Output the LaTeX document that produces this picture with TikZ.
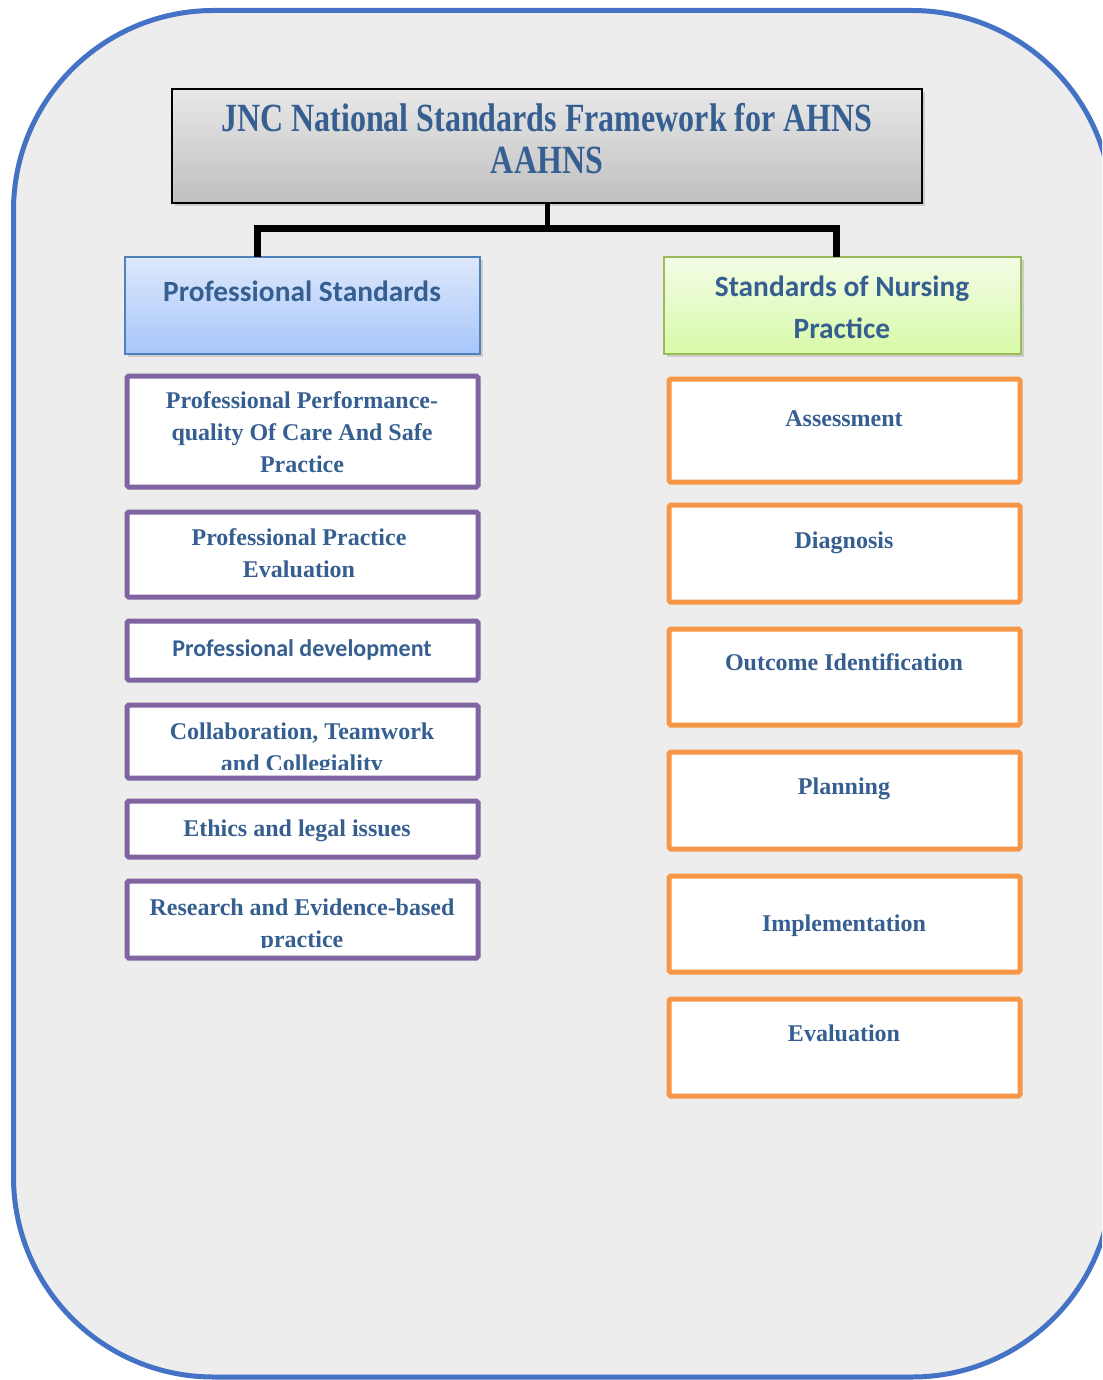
\documentclass[tikz,border=0pt]{standalone}
\usepackage{fontspec}
\setmainfont{Liberation Serif}
\newfontfamily\calibrifont{Carlito}
\newfontfamily\titlefont[FakeStretch=0.8]{Liberation Serif}
\usetikzlibrary{shadows}

\definecolor{framecol}{HTML}{4472C4}
\definecolor{panegrey}{HTML}{EDEDED}
\definecolor{txtblue}{HTML}{365F91}
\definecolor{itempurple}{HTML}{8064A2}
\definecolor{itemorange}{HTML}{F79646}
\definecolor{profline}{HTML}{4F81BD}
\definecolor{proftop}{HTML}{DDE8FB}
\definecolor{profbot}{HTML}{A7C6FA}
\definecolor{nursline}{HTML}{9BBB59}
\definecolor{nurstop}{HTML}{F3FCE6}
\definecolor{nursbot}{HTML}{D8FAA8}

\tikzset{
  frame/.style={draw=framecol, line width=2.5pt, fill=panegrey, rounded corners=100pt},
  headshadow/.style={drop shadow={shadow xshift=1.5pt, shadow yshift=-1.5pt, opacity=0.3}},
  titlebox/.style={draw=black, line width=1pt, anchor=north west, outer sep=0pt, minimum width=375pt,
    minimum height=57pt, top color=black!9, bottom color=black!25, headshadow},
  profbox/.style={draw=profline, line width=0.9pt, anchor=north west, outer sep=0pt, minimum width=177.5pt,
    minimum height=48.5pt, top color=proftop, bottom color=profbot, headshadow},
  nursbox/.style={draw=nursline, line width=0.9pt, anchor=north west, outer sep=0pt, minimum width=178.5pt,
    minimum height=48.5pt, top color=nurstop, bottom color=nursbot, headshadow},
  purplebox/.style={draw=itempurple, line width=2.5pt, fill=white, anchor=north west, outer sep=0pt,
    minimum width=175.5pt, rounded corners=0.8pt},
  orangebox/.style={draw=itemorange, line width=2.5pt, fill=white, anchor=north west, outer sep=0pt,
    minimum width=175.5pt, rounded corners=0.8pt},
  titletext/.style={text=txtblue, align=center, font=\titlefont\bfseries\fontsize{20}{21}\selectfont},
  headtext/.style={text=txtblue, align=center, font=\calibrifont\bfseries\fontsize{14.7}{21}\selectfont},
  itemtext/.style={text=txtblue, align=center, font=\bfseries\fontsize{12}{16}\selectfont},
  itemsans/.style={text=txtblue, align=center, font=\calibrifont\bfseries\fontsize{12}{16}\selectfont},
  stem/.style={line width=2.5pt, black},
  bar/.style={line width=3.5pt, black}
}

\begin{document}
\begin{tikzpicture}[x=0.5pt, y=-0.5pt]
  \useasboundingbox (0,0) rectangle (1102,1380);
  \clip (0,0) rectangle (1102,1380);

  % Outer panel
  \draw[frame] (13.5,10.5) rectangle (1112,1377);

  % Title
  \node[titlebox] (title) at (172,89) {};
  \node[titletext] (titletxt) at (547,139) {JNC National Standards Framework for AHNS\\AAHNS};

  % Branch headers
  \node[profbox] (profstd) at (125,257) {};
  \node[headtext] (profstdtxt) at (302,291) {Professional Standards};
  \node[nursbox] (nursstd) at (664,257) {};
  \node[headtext] (nursstdtxt) at (842,307) {Standards of Nursing\\Practice};

  % Connectors
  \coordinate (legL) at (257,257);
  \coordinate (legR) at (836,257);
  \draw[stem] (title.south) -- ++(0,26);
  \draw[bar] (legL) -- ++(0,-28) -| (legR);

  % Professional standards items
  \node[purplebox, minimum height=55.5pt] (perf) at (127,376) {};
  \node[itemtext] (perftxt) at (302,432) {Professional Performance-\\quality Of Care And Safe\\Practice};

  \node[purplebox, minimum height=42.5pt] (ppe) at (127,512) {};
  \node[itemtext] (ppetxt) at (299,553) {Professional Practice\\Evaluation};

  \node[purplebox, minimum height=29.5pt] (pdev) at (127,621) {};
  \node[itemsans] (pdevtxt) at (302,650) {Professional development};

  \node[purplebox, minimum height=36.5pt] (collab) at (127,705) {};
  \begin{scope}
    \clip (130,708) rectangle (475,769);
    \node[itemtext] (collabtxt) at (302,750) {Collaboration, Teamwork\\and Collegiality};
  \end{scope}

  \node[purplebox, minimum height=28pt] (ethics) at (127,801) {};
  \node[itemtext] (ethicstxt) at (297,831) {Ethics and legal issues};

  \node[purplebox, minimum height=38.5pt] (research) at (127,881) {};
  \begin{scope}
    \clip (130,884) rectangle (475,947);
    \node[itemtext] (researchtxt) at (302,926) {Research and Evidence-based\\practice};
  \end{scope}

  % Nursing practice items
  \node[orangebox, minimum height=51.5pt] (assess) at (669,379) {};
  \node[itemtext] (assesstxt) at (844,419) {Assessment};

  \node[orangebox, minimum height=48.5pt] (diag) at (669,505) {};
  \node[itemtext] (diagtxt) at (844,543) {Diagnosis};

  \node[orangebox, minimum height=48pt] (outcome) at (669,629) {};
  \node[itemtext] (outcometxt) at (844,662) {Outcome Identification};

  \node[orangebox, minimum height=48.5pt] (plan) at (669,752) {};
  \node[itemtext] (plantxt) at (844,789) {Planning};

  \node[orangebox, minimum height=48pt] (impl) at (669,876) {};
  \node[itemtext] (impltxt) at (844,926) {Implementation};

  \node[orangebox, minimum height=48.5pt] (evalu) at (669,999) {};
  \node[itemtext] (evalutxt) at (844,1033) {Evaluation};
\end{tikzpicture}
\end{document}
